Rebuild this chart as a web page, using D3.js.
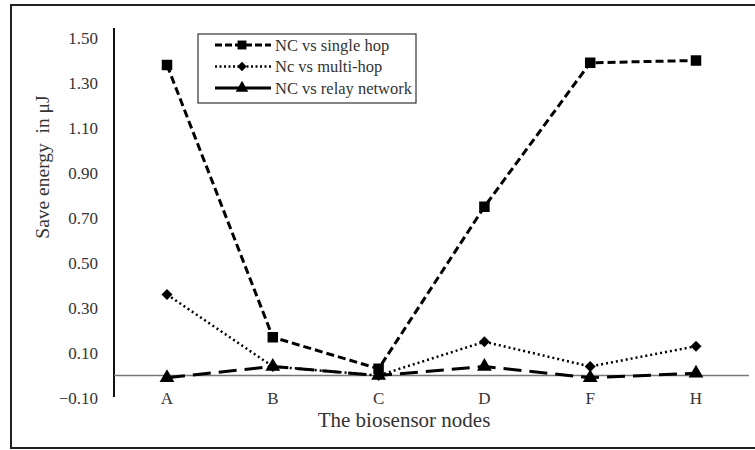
<!DOCTYPE html>
<html><head><meta charset="utf-8">
<script src="https://cdn.jsdelivr.net/npm/d3@7"></script>
<style>body{margin:0;background:#fff}svg{display:block}text{fill:#333;white-space:pre}</style>
</head><body><svg id="c" width="755" height="450" font-family="'Liberation Serif','DejaVu Serif','Times New Roman',serif"></svg>
<script>
const categories = ["A","B","C","D","F","H"];
const singleHop = [1.38, 0.17, 0.03, 0.75, 1.39, 1.40];
const multiHop  = [0.36, 0.04, 0.00, 0.15, 0.04, 0.13];
const relayNet  = [-0.01, 0.04, 0.00, 0.04, -0.01, 0.01];
const yTicks = [-0.10, 0.10, 0.30, 0.50, 0.70, 0.90, 1.10, 1.30, 1.50];
const seriesNames = ["NC vs single hop","Nc vs multi-hop","NC vs relay network"];

const svg = d3.select("#c");
svg.append("rect").attr("x",11).attr("y",5).attr("width",760).attr("height",443)
  .attr("fill","none").attr("stroke","#222").attr("stroke-width",2);

const x = d3.scalePoint().domain(categories).range([167, 696]);
const y = d3.scaleLinear().domain([-0.1, 1.5]).range([398, 38]);

svg.append("line").attr("x1",114).attr("x2",114).attr("y1",y(1.545)).attr("y2",y(-0.095))
  .attr("stroke","#111").attr("stroke-width",2);
svg.append("line").attr("x1",114).attr("x2",749).attr("y1",y(0)).attr("y2",y(0))
  .attr("stroke","#777").attr("stroke-width",1.5);

svg.append("g").selectAll("text").data(yTicks).join("text")
  .attr("x",98).attr("y",d=>y(d)).attr("dy","0.35em").attr("text-anchor","end")
  .attr("font-size",17).text(d=>d3.format(".2f")(d));

svg.append("g").selectAll("text").data(categories).join("text")
  .attr("x",d=>x(d)).attr("y",398).attr("dy","0.35em").attr("text-anchor","middle")
  .attr("font-size",17).text(d=>d);

svg.append("text").attr("x",404).attr("y",420).attr("dy","0.35em").attr("text-anchor","middle")
  .attr("font-size",21).text("The biosensor nodes");
svg.append("text").attr("transform","translate(42,167) rotate(-90)").attr("dy","0.35em")
  .attr("text-anchor","middle").attr("font-size",19.5).text("Save energy  in μJ");

const series = [
  {name:seriesNames[0], values:singleHop, dash:"8,4", width:3, marker:"square"},
  {name:seriesNames[1], values:multiHop, dash:"2,3", width:2.5, marker:"diamond"},
  {name:seriesNames[2], values:relayNet, dash:"18,8", width:3, marker:"triangle"}
];
const markerPath = {
  square: d3.symbol().type(d3.symbolSquare).size(110)(),
  diamond: d3.symbol().type(d3.symbolSquare).size(60)(),
  triangle: d3.symbol().type(d3.symbolTriangle).size(95)()
};
const markerRot = {square:0, diamond:45, triangle:0};
const line = d3.line().x((d,i)=>x(categories[i])).y(d=>y(d));

series.forEach(s=>{
  svg.append("path").datum(s.values).attr("d",line).attr("fill","none")
    .attr("stroke","#000").attr("stroke-width",s.width).attr("stroke-dasharray",s.dash);
  svg.append("g").selectAll("path").data(s.values).join("path")
    .attr("transform",(d,i)=>`translate(${x(categories[i])},${y(d)}) rotate(${markerRot[s.marker]})`)
    .attr("d",markerPath[s.marker]).attr("fill","#000");
});

const lg = svg.append("g");
lg.append("rect").attr("x",198).attr("y",34).attr("width",218).attr("height",69)
  .attr("fill","#fff").attr("stroke","#333").attr("stroke-width",1.2);
series.forEach((s,i)=>{
  const yy = 45 + i*21.5;
  lg.append("line").attr("x1",215).attr("x2",271).attr("y1",yy).attr("y2",yy)
    .attr("stroke","#000").attr("stroke-width",s.width)
    .attr("stroke-dasharray", i===2 ? null : (i===0 ? "7,3" : "2,2.5"));
  lg.append("path").attr("transform",`translate(242,${yy}) scale(0.85) rotate(${markerRot[s.marker]})`)
    .attr("d",markerPath[s.marker]).attr("fill","#000");
  lg.append("text").attr("x",275).attr("y",yy).attr("dy","0.35em").attr("font-size",16.5)
    .text(s.name);
});
</script></body></html>
